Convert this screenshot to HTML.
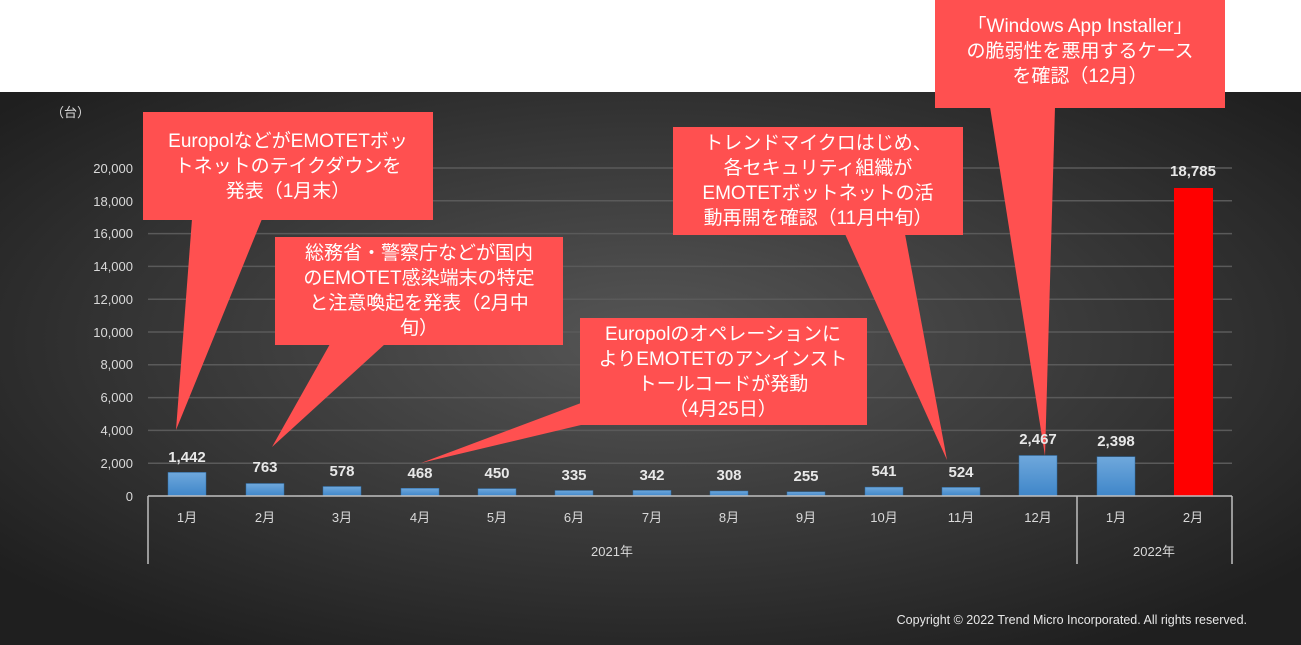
<!DOCTYPE html>
<html><head><meta charset="utf-8"><style>
body{margin:0;width:1301px;height:645px;overflow:hidden;background:#fff;font-family:"Liberation Sans","Noto Sans CJK JP",sans-serif}
svg{display:block}
</style></head><body>
<svg width="1301" height="645" xmlns="http://www.w3.org/2000/svg" font-family="Liberation Sans, Noto Sans CJK JP, sans-serif">
<defs>
<radialGradient id="bg" cx="0.5" cy="0.45" r="0.65">
<stop offset="0" stop-color="#565656"/><stop offset="1" stop-color="#1f1f1f"/>
</radialGradient>
<linearGradient id="bar" x1="0" y1="0" x2="0" y2="1"><stop offset="0" stop-color="#6fa8dc"/><stop offset="1" stop-color="#3f86c9"/></linearGradient>
</defs>
<rect x="0" y="92" width="1301" height="553" fill="url(#bg)"/>
<g stroke="#5a5a5a" stroke-width="1.5">
<line x1="148" x2="1232" y1="463.2" y2="463.2"/><line x1="148" x2="1232" y1="430.4" y2="430.4"/>
<line x1="148" x2="1232" y1="397.6" y2="397.6"/><line x1="148" x2="1232" y1="364.8" y2="364.8"/>
<line x1="148" x2="1232" y1="332" y2="332"/><line x1="148" x2="1232" y1="299.2" y2="299.2"/>
<line x1="148" x2="1232" y1="266.4" y2="266.4"/><line x1="148" x2="1232" y1="233.6" y2="233.6"/>
<line x1="148" x2="1232" y1="200.8" y2="200.8"/><line x1="148" x2="1232" y1="168" y2="168"/>
</g>
<g fill="#d9d9d9" font-size="13" text-anchor="end">
<text x="133" y="501">0</text><text x="133" y="468">2,000</text><text x="133" y="435">4,000</text>
<text x="133" y="402">6,000</text><text x="133" y="369">8,000</text><text x="133" y="337">10,000</text>
<text x="133" y="304">12,000</text><text x="133" y="271">14,000</text><text x="133" y="238">16,000</text>
<text x="133" y="206">18,000</text><text x="133" y="173">20,000</text>
<text x="90" y="117">（台）</text>
</g>
<g fill="url(#bar)" stroke="#2f6ea8" stroke-width="0.5">
<rect x="168" y="472.4" width="38" height="23.6"/>
<rect x="246" y="483.5" width="38" height="12.5"/>
<rect x="323" y="486.5" width="38" height="9.5"/>
<rect x="401" y="488.3" width="38" height="7.7"/>
<rect x="478" y="488.6" width="38" height="7.4"/>
<rect x="555" y="490.5" width="38" height="5.5"/>
<rect x="633" y="490.4" width="38" height="5.6"/>
<rect x="710" y="491" width="38" height="5"/>
<rect x="787" y="491.8" width="38" height="4.2"/>
<rect x="865" y="487.1" width="38" height="8.9"/>
<rect x="942" y="487.4" width="38" height="8.6"/>
<rect x="1019" y="455.5" width="38" height="40.5"/>
<rect x="1097" y="456.7" width="38" height="39.3"/>
</g>
<rect x="1174" y="188" width="39" height="308" fill="#ff0000"/>
<g stroke="#bfbfbf" stroke-width="1.5" fill="none">
<line x1="148" x2="1232" y1="496" y2="496"/>
<line x1="148" x2="148" y1="496" y2="564"/>
<line x1="1077" x2="1077" y1="496" y2="564"/>
<line x1="1232" x2="1232" y1="496" y2="564"/>
</g>
<g fill="#d9d9d9" font-size="13" text-anchor="middle">
<text x="187" y="522">1月</text><text x="265" y="522">2月</text><text x="342" y="522">3月</text>
<text x="420" y="522">4月</text><text x="497" y="522">5月</text><text x="574" y="522">6月</text>
<text x="652" y="522">7月</text><text x="729" y="522">8月</text><text x="806" y="522">9月</text>
<text x="884" y="522">10月</text><text x="961" y="522">11月</text><text x="1038" y="522">12月</text>
<text x="1116" y="522">1月</text><text x="1193" y="522">2月</text>
<text x="612" y="556">2021年</text><text x="1154" y="556">2022年</text>
</g>
<text x="1247" y="624" fill="#e8e8e8" font-size="12.5" text-anchor="end">Copyright © 2022 Trend Micro Incorporated. All rights reserved.</text>
<g fill="#ff5050">
<rect x="143" y="112" width="290" height="108"/><polygon points="192,219 262,219 176,430"/>
<rect x="275" y="237" width="288" height="108"/><polygon points="330,344 385,344 272,447"/>
<rect x="580" y="318" width="287" height="107"/><polygon points="581,403 581,425 421,463"/>
<rect x="673" y="127" width="290" height="108"/><polygon points="845,234 905,234 947,460"/>
<rect x="935" y="0" width="290" height="108"/><polygon points="990,107 1055,107 1045,456"/>
</g>
<g fill="#e8e8e8" font-size="15" font-weight="bold" text-anchor="middle">
<text x="187" y="462">1,442</text><text x="265" y="472">763</text><text x="342" y="476">578</text>
<text x="420" y="478">468</text><text x="497" y="478">450</text><text x="574" y="480">335</text>
<text x="652" y="480">342</text><text x="729" y="480">308</text><text x="806" y="481">255</text>
<text x="884" y="476">541</text><text x="961" y="477">524</text><text x="1038" y="444">2,467</text>
<text x="1116" y="446">2,398</text><text x="1193" y="176">18,785</text>
</g>
<g fill="#fff" font-size="19" text-anchor="middle">
<text x="288" y="147">EuropolなどがEMOTETボッ</text>
<text x="288" y="172">トネットのテイクダウンを</text>
<text x="288" y="197">発表（1月末）</text>
<text x="419" y="259">総務省・警察庁などが国内</text>
<text x="419" y="284">のEMOTET感染端末の特定</text>
<text x="419" y="309">と注意喚起を発表（2月中</text>
<text x="419" y="334">旬）</text>
<text x="723" y="340">Europolのオペレーションに</text>
<text x="723" y="365">よりEMOTETのアンインスト</text>
<text x="723" y="390">トールコードが発動</text>
<text x="723" y="415">（4月25日）</text>
<text x="818" y="149">トレンドマイクロはじめ、</text>
<text x="818" y="174">各セキュリティ組織が</text>
<text x="818" y="199">EMOTETボットネットの活</text>
<text x="818" y="224">動再開を確認（11月中旬）</text>
<text x="1080" y="32">「Windows App Installer」</text>
<text x="1080" y="57">の脆弱性を悪用するケース</text>
<text x="1080" y="82">を確認（12月）</text>
</g>
</svg>
</body></html>
